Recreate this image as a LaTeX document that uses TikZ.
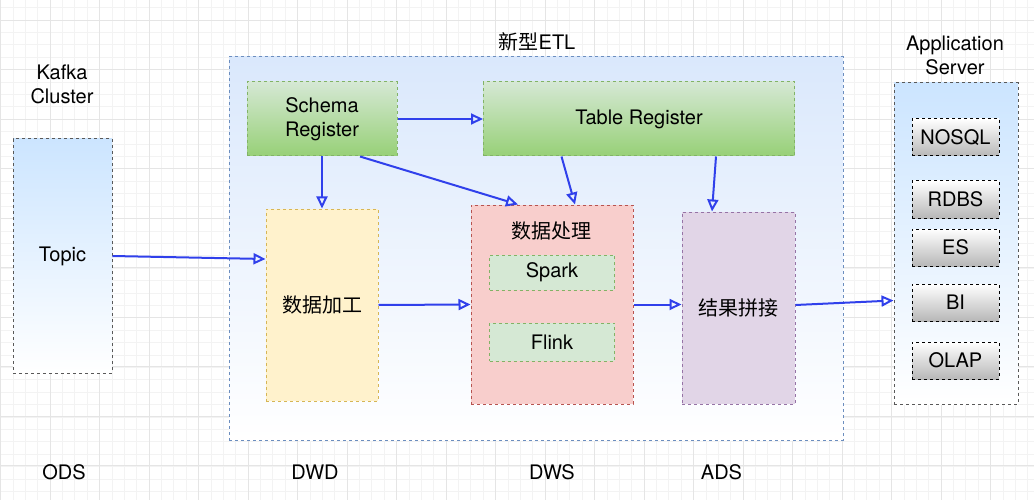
\documentclass[tikz,border=0pt]{standalone}
\usepackage{fontspec}
\setmainfont{TeX Gyre Heros}
\newfontfamily\cjk{Noto Sans CJK SC}
\usetikzlibrary{arrows.meta, positioning, calc}
\definecolor{Flow}{RGB}{48, 64, 235}
\definecolor{EtlLine}{RGB}{108, 142, 191}
\definecolor{EtlFill}{RGB}{218, 232, 252}
\definecolor{SkyFill}{RGB}{204, 229, 255}
\definecolor{LeafTop}{RGB}{213, 232, 212}
\definecolor{LeafBottom}{RGB}{151, 208, 119}
\definecolor{LeafLine}{RGB}{130, 179, 102}
\definecolor{SandFill}{RGB}{255, 242, 204}
\definecolor{SandLine}{RGB}{214, 182, 86}
\definecolor{RoseFill}{RGB}{248, 206, 204}
\definecolor{RoseLine}{RGB}{184, 84, 80}
\definecolor{MauveFill}{RGB}{225, 213, 231}
\definecolor{MauveLine}{RGB}{150, 115, 166}
\definecolor{GridMinor}{RGB}{243, 243, 243}
\definecolor{GridMajor}{RGB}{229, 229, 229}

\begin{document}
\begin{tikzpicture}[x=1pt, y=-1pt,
    font=\fontsize{20}{24}\selectfont,
    dashbox/.style={dash pattern=on 3pt off 3pt, line width=1pt, inner sep=0pt, align=center},
    hostbox/.style={dashbox, draw=black!65, top color=SkyFill, bottom color=white},
    leafbox/.style={dashbox, draw=LeafLine, top color=LeafTop, bottom color=LeafBottom},
    storebox/.style={dashbox, draw=black, top color=white, bottom color=black!28,
        minimum width=87, minimum height=37},
    flow/.style={-{Triangle[open, length=12pt, width=11pt]}, Flow, line width=2pt}]
    \useasboundingbox (0,0) rectangle (1034,500);
    % Grid
    \foreach \x in {0.5, 12.875, ..., 1034} \draw[GridMinor, line width=0.6pt] (\x,0) -- (\x,500);
    \foreach \y in {7.6, 20, ..., 500} \draw[GridMinor, line width=0.6pt] (0,\y) -- (1034,\y);
    \foreach \x in {0.5, 50, ..., 1034} \draw[GridMajor, line width=0.8pt] (\x,0) -- (\x,500);
    \foreach \y in {20, 69.5, ..., 500} \draw[GridMajor, line width=0.8pt] (0,\y) -- (1034,\y);

    % Kafka Cluster
    \node (kafkalabel) at (62, 84) [align=center] {Kafka\\Cluster};
    \node[hostbox, minimum width=99, minimum height=234] (topic) at (62.5, 256) {Topic};

    % ETL frame
    \node (etllabel) at (537, 42) {{\cjk 新型}ETL};
    \node[dashbox, draw=EtlLine, top color=EtlFill, bottom color=white,
        minimum width=614, minimum height=383] (etl) at (536, 248.5) {};

    % Registers
    \node[leafbox, minimum width=150, minimum height=74] (schema) at (322, 119) {Schema\\Register};
    \node[leafbox, minimum width=311, minimum height=74] (table) at (639, 119) {Table Register};

    % DWD
    \node[dashbox, draw=SandLine, fill=SandFill, minimum width=112, minimum height=192,
        font=\cjk\fontsize{20}{24}\selectfont] (dwd) at (322, 305) {数据加工};

    % DWS
    \node[dashbox, draw=RoseLine, fill=RoseFill, minimum width=162, minimum height=199] (proc) at (552, 304.5) {};
    \node[font=\cjk\fontsize{20}{24}\selectfont] (proctitle) at (551, 231) {数据处理};
    \node[dashbox, draw=LeafLine, fill=LeafTop, minimum width=125, minimum height=35] (spark) at (552, 272.5) {Spark};
    \node[dashbox, draw=LeafLine, fill=LeafTop, minimum width=125, minimum height=38] (flink) at (552, 342) {Flink};

    % ADS
    \node[dashbox, draw=MauveLine, fill=MauveFill, minimum width=113, minimum height=192,
        font=\cjk\fontsize{20}{24}\selectfont] (ads) at (738.5, 308) {结果拼接};

    % Application Server
    \node (applabel) at (955, 55) [align=center] {Application\\Server};
    \node[hostbox, minimum width=124, minimum height=321] (app) at (956, 243.5) {};
    \node[storebox] (nosql) at (955.5, 137.5) {NOSQL};
    \node[storebox] (rdbs) at (955.5, 199.5) {RDBS};
    \node[storebox] (es) at (955.5, 247.5) {ES};
    \node[storebox] (bi) at (955.5, 302.5) {BI};
    \node[storebox] (olap) at (955.5, 360.5) {OLAP};

    % Layers
    \node (ods) at (64, 472) {ODS};
    \node (dwdlabel) at (315, 472) {DWD};
    \node (dwslabel) at (552, 472) {DWS};
    \node (adslabel) at (721.5, 472) {ADS};

    % Arrows
    \draw[flow] (schema.east) -- (table.west);
    \draw[flow] (schema.south) -- (dwd.north);
    \draw[flow] ($(schema.south)+(38,0)$) -- ($(proc.north)+(-34,0)$);
    \draw[flow] ($(table.south)+(-77.5,0)$) -- ($(proc.north)+(23,0)$);
    \draw[flow] ($(table.south)+(77,0)$) -- ($(ads.north)+(-26.5,0)$);
    \draw[flow] (topic.east) -- ($(dwd.west)+(0,-46)$);
    \draw[flow] (dwd.east) -- (proc.west);
    \draw[flow] (proc.east) -- (proc.east -| ads.west);
    \draw[flow] ($(ads.east)+(0,-3)$) -- ($(app.west)+(0,57)$);
\end{tikzpicture}
\end{document}
